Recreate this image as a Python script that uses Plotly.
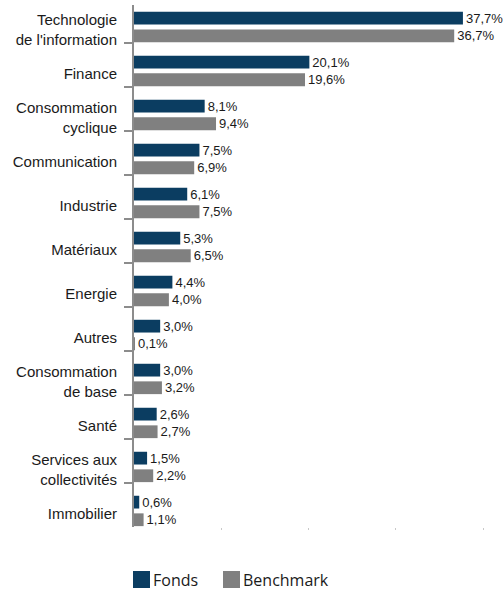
import plotly.graph_objects as go

categories = [
    "Technologie<br>de l'information",
    "Finance",
    "Consommation<br>cyclique",
    "Communication",
    "Industrie",
    "Matériaux",
    "Energie",
    "Autres",
    "Consommation<br>de base",
    "Santé",
    "Services aux<br>collectivités",
    "Immobilier",
]
fonds = [37.7, 20.1, 8.1, 7.5, 6.1, 5.3, 4.4, 3.0, 3.0, 2.6, 1.5, 0.6]
benchmark = [36.7, 19.6, 9.4, 6.9, 7.5, 6.5, 4.0, 0.1, 3.2, 2.7, 2.2, 1.1]
series_names = ["Fonds", "Benchmark"]
x_ticks = [10, 20, 30, 40]

C_FONDS = "#0B3D61"
C_BENCH = "#808080"

def fmt(v):
    return f"{v:.1f}%".replace(".", ",")

pos = list(range(len(categories)))

fig = go.Figure()
fig.add_trace(go.Bar(
    y=pos, x=fonds, orientation="h", name=series_names[0],
    marker=dict(color=C_FONDS, line=dict(width=0)),
    offset=-0.21, width=0.29,
    text=[fmt(v) for v in fonds], textposition="outside",
    textfont=dict(family="Liberation Sans, Arial", size=13, color="#1a1a1a"),
    constraintext="none", cliponaxis=False, showlegend=False,
    hoverinfo="skip",
))
fig.add_trace(go.Bar(
    y=pos, x=benchmark, orientation="h", name=series_names[1],
    marker=dict(color=C_BENCH, line=dict(width=0)),
    offset=0.19, width=0.29,
    text=[fmt(v) for v in benchmark], textposition="outside",
    textfont=dict(family="Liberation Sans, Arial", size=13, color="#1a1a1a"),
    constraintext="none", cliponaxis=False, showlegend=False,
    hoverinfo="skip",
))

# custom legend (large squares)
legend_items = [(series_names[0], C_FONDS, 133), (series_names[1], C_BENCH, 223)]
for name, col, px in legend_items:
    fig.add_shape(type="rect", xref="paper", yref="paper",
                  x0=(px - 134) / 349, x1=(px + 17 - 134) / 349,
                  y0=-(588 - 527) / 522, y1=-(571 - 527) / 522,
                  fillcolor=col, line=dict(width=0))
    fig.add_annotation(xref="paper", yref="paper", x=(px + 18 - 134) / 349,
                       y=-(580 - 527) / 522, text=name, showarrow=False,
                       xanchor="left", yanchor="middle",
                       font=dict(family="Open Sans, Lato", size=16, color="#1a1a1a"))

fig.update_layout(
    width=504, height=594,
    margin=dict(l=134, r=21, t=5, b=67),
    paper_bgcolor="white", plot_bgcolor="white",
    barmode="overlay",
    showlegend=False,
    font=dict(family="Liberation Sans, Arial", color="#1a1a1a"),
)
fig.update_xaxes(
    range=[0, 40], showgrid=False, zeroline=False, showline=False,
    tickmode="array", tickvals=x_ticks, ticks="outside", ticklen=2,
    tickcolor="#c8c8c8", tickwidth=1, showticklabels=False,
)
fig.update_yaxes(
    range=[11.5, -0.364], showgrid=False, zeroline=False,
    showline=True, linecolor="#8c8c8c", linewidth=2,
    tickmode="array", tickvals=[p + 0.2 for p in pos], ticktext=categories,
    ticks="outside", ticklen=8, tickcolor="rgba(0,0,0,0)",
    ticklabelstandoff=4,
    tickfont=dict(family="Liberation Sans, Arial", size=15, color="#1a1a1a"),
    minor=dict(tickvals=[p + 0.5 for p in pos[:-1]], ticks="outside",
               ticklen=8, tickwidth=2, tickcolor="#8c8c8c"),
)

fig.write_html("out.html",
               config={"displayModeBar": False},
               post_script="document.body.style.margin='0';document.body.style.overflow='hidden';")
